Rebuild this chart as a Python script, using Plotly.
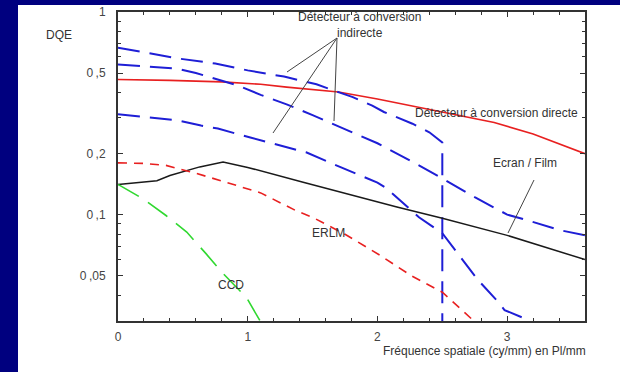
import plotly.graph_objects as go

W, H = 620, 372
ML, MR, MT, MB = 118, 35, 12, 51

# ---- data (spatial frequency in lp/mm, DQE) ----
freq_direct = [0, 0.4, 0.8, 1.1, 1.3, 1.7, 2.0, 2.3, 2.6, 2.9, 3.2, 3.6]
dqe_direct = [0.464, 0.46, 0.452, 0.44, 0.426, 0.403, 0.372, 0.34, 0.313, 0.285, 0.25, 0.2]

freq_ind_a = [0, 0.19, 0.46, 0.75, 1.0, 1.28, 1.53, 1.71, 1.81, 1.96, 2.05, 2.27, 2.4, 2.5, 2.5]
dqe_ind_a = [0.667, 0.634, 0.59, 0.557, 0.515, 0.48, 0.44, 0.40, 0.38, 0.345, 0.321, 0.281, 0.255, 0.227, 0.025]

freq_ind_b = [0, 0.2, 0.46, 0.6, 0.75, 0.92, 1.1, 1.3, 1.5, 1.75, 2.0, 2.25, 2.5, 2.75, 3.0, 3.15, 3.4, 3.6]
dqe_ind_b = [0.551, 0.54, 0.525, 0.50, 0.47, 0.435, 0.39, 0.35, 0.31, 0.265, 0.225, 0.185, 0.151, 0.122, 0.100, 0.094, 0.084, 0.079]

freq_ind_c = [0, 0.19, 0.46, 0.64, 0.77, 1.02, 1.28, 1.45, 1.72, 2.0, 2.07, 2.25, 2.32, 2.5, 2.57, 2.71, 2.77, 2.92, 2.98, 3.12]
dqe_ind_c = [0.3125, 0.303, 0.292, 0.275, 0.266, 0.24, 0.217, 0.203, 0.171, 0.144, 0.135, 0.107, 0.097, 0.081, 0.0705, 0.054, 0.048, 0.0377, 0.0338, 0.031]

freq_film = [0, 0.3, 0.4, 0.58, 0.63, 0.81, 1.0, 1.42, 1.85, 2.15, 2.5, 3.0, 3.6]
dqe_film = [0.141, 0.147, 0.156, 0.169, 0.172, 0.182, 0.171, 0.145, 0.122, 0.109, 0.096, 0.079, 0.06]

freq_erlm = [0, 0.2, 0.37, 0.6, 0.84, 1.1, 1.38, 1.5, 1.75, 2.02, 2.26, 2.5, 2.72, 2.8]
dqe_erlm = [0.18, 0.179, 0.175, 0.16, 0.144, 0.128, 0.104, 0.097, 0.08, 0.063, 0.05, 0.0414, 0.0308, 0.027]

freq_ccd = [0, 0.19, 0.37, 0.53, 0.68, 0.8, 0.99, 1.1, 1.15]
dqe_ccd = [0.141, 0.12, 0.099, 0.082, 0.064, 0.052, 0.039, 0.0298, 0.026]

x_ticks = [0, 1, 2, 3]
y_ticks = [0.05, 0.1, 0.2, 0.5, 1]
y_ticktext = ["0\u2009,05", "0\u2009,1", "0\u2009,2", "0\u2009,5", "1"]
y_minor = [0.04, 0.06, 0.07, 0.08, 0.09, 0.3, 0.4, 0.6, 0.7, 0.8, 0.9]

BLUE = "#1e1ed6"
RED = "#e82020"
GREEN = "#30d830"
BLACK = "#1a1a1a"
NAVY = "#00007f"
TXT = "#333333"

fig = go.Figure()
fig.add_trace(go.Scatter(x=freq_direct, y=dqe_direct, mode="lines",
                         line=dict(color=RED, width=1.6)))
for fx, fy in [(freq_ind_a, dqe_ind_a), (freq_ind_b, dqe_ind_b), (freq_ind_c, dqe_ind_c)]:
    fig.add_trace(go.Scatter(x=fx, y=fy, mode="lines",
                             line=dict(color=BLUE, width=2, dash="22px,10px")))
fig.add_trace(go.Scatter(x=freq_film, y=dqe_film, mode="lines",
                         line=dict(color=BLACK, width=1.5)))
fig.add_trace(go.Scatter(x=freq_erlm, y=dqe_erlm, mode="lines",
                         line=dict(color=RED, width=1.6, dash="9px,7px")))
fig.add_trace(go.Scatter(x=freq_ccd, y=dqe_ccd, mode="lines",
                         line=dict(color=GREEN, width=1.6, dash="24px,11px")))

PW = W - ML - MR
PH = H - MT - MB


def pp(px, py):
    return (px - ML) / PW, (H - MB - py) / PH


shapes = []
# background strips
x0, y0 = pp(0, 0)
x1, y1 = pp(W, 5)
shapes.append(dict(type="rect", xref="paper", yref="paper", x0=x0, x1=x1, y0=y1, y1=y0,
                   fillcolor=NAVY, line=dict(width=0), layer="below"))
x0, y0 = pp(0, 0)
x1, y1 = pp(18, H)
shapes.append(dict(type="rect", xref="paper", yref="paper", x0=x0, x1=x1, y0=y1, y1=y0,
                   fillcolor=NAVY, line=dict(width=0), layer="below"))
# pointer lines
pointers = [((337, 38), (287, 72)), ((337, 38), (273, 133)), ((337, 38), (334, 121)),
            ((534, 180), (508, 233))]
for (a, b) in pointers:
    ax, ay = pp(*a)
    bx, by = pp(*b)
    shapes.append(dict(type="line", xref="paper", yref="paper", x0=ax, y0=ay, x1=bx, y1=by,
                       line=dict(color="#444444", width=1)))

texts = [
    ("DQE", 59, 35, "center"),
    ("Détecteur à conversion<br>indirecte", 359, 25, "center"),
    ("Détecteur à conversion directe", 496, 113, "center"),
    ("Ecran / Film", 525, 163, "center"),
    ("ERLM", 328, 233, "center"),
    ("CCD", 231, 285, "center"),
    ("Fréquence spatiale (cy/mm) en Pl/mm", 588, 351, "right"),
]
annotations = []
for t, px, py, anc in texts:
    ax, ay = pp(px, py)
    annotations.append(dict(text=t, x=ax, y=ay, xref="paper", yref="paper", showarrow=False,
                            xanchor=anc, yanchor="middle",
                            font=dict(family="Liberation Sans, Arial", size=12, color=TXT)))

fig.update_layout(
    width=W, height=H,
    margin=dict(l=ML, r=MR, t=MT, b=MB, pad=0, autoexpand=False),
    paper_bgcolor="white", plot_bgcolor="white",
    showlegend=False,
    shapes=shapes, annotations=annotations,
    font=dict(family="Liberation Sans, Arial", size=12, color="#444444"),
)
fig.update_xaxes(range=[0, 3.6], tickvals=x_ticks, ticks="inside", ticklen=5, tickwidth=1,
                 tickcolor="#333333", showgrid=False, zeroline=False, automargin=False,
                 showline=True, linecolor="#333333", linewidth=2, mirror="ticks",
                 minor=dict(dtick=0.2, tick0=0, ticks="inside", ticklen=3, tickcolor="#333333", showgrid=False),
                 ticklabelstandoff=4)
fig.update_yaxes(type="log", range=[-1.525, 0], tickvals=y_ticks, ticktext=y_ticktext,
                 ticks="inside", ticklen=5, tickwidth=1, tickcolor="#333333", showgrid=False,
                 zeroline=False, automargin=False, showline=True, linecolor="#333333", linewidth=2,
                 mirror="ticks",
                 minor=dict(tickmode="array", tickvals=y_minor, ticks="inside", ticklen=3,
                            tickcolor="#333333", showgrid=False),
                 ticklabelstandoff=8)

fig.write_html("out.html")
